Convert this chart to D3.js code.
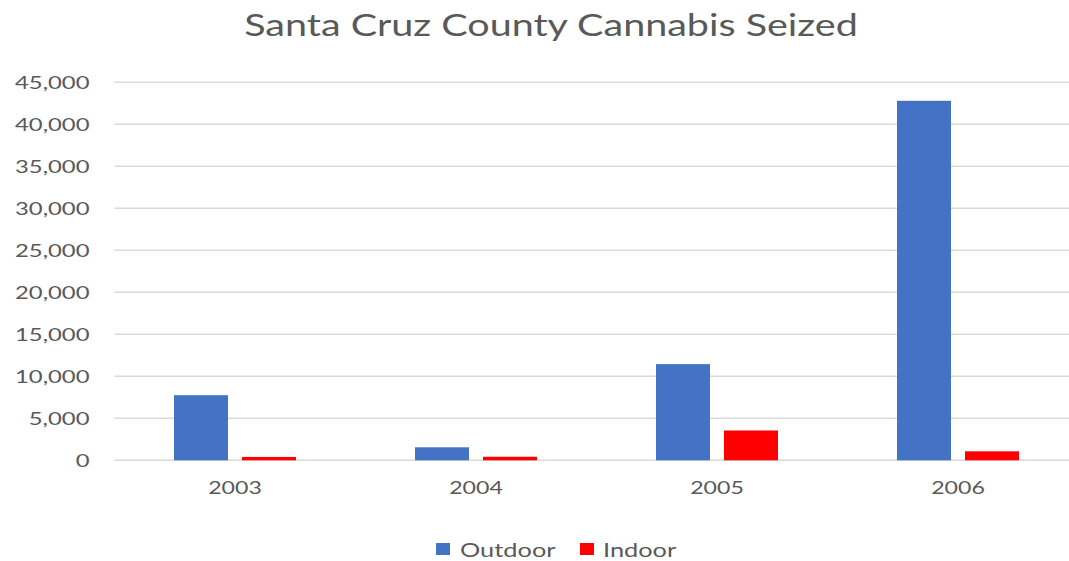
<!DOCTYPE html>
<html>
<head>
<meta charset="utf-8">
<script src="https://cdn.jsdelivr.net/npm/d3@7"></script>
<style>
  html, body { margin: 0; padding: 0; background: #fff; }
  svg { display: block; }
  text { font-family: Lato, "Open Sans", sans-serif; fill: #595959; }
</style>
</head>
<body>
<svg id="chart" width="1069" height="561"></svg>
<script>
// Santa Cruz County cannabis seized, by year
const years = ["2003", "2004", "2005", "2006"];
const seriesNames = ["Outdoor", "Indoor"];
const outdoor = [7750, 1550, 11450, 42800];
const indoor = [400, 420, 3550, 1070];
const yTicks = [0, 5000, 10000, 15000, 20000, 25000, 30000, 35000, 40000, 45000];
const colors = ["#4472C4", "#FF0000"];

const svg = d3.select("#chart");
const plot = { left: 114.5, right: 1078.5, top: 82.3, bottom: 460.3 };

// widen text horizontally by a factor (the chart's lettering is broad)
function widen(sel, factor) {
  sel.each(function () {
    const len = this.getComputedTextLength();
    d3.select(this).attr("textLength", len * factor).attr("lengthAdjust", "spacingAndGlyphs");
  });
}

const x0 = d3.scaleBand().domain(years).range([plot.left, plot.right]).paddingInner(0).paddingOuter(0);
const x1 = d3.scaleBand().domain(seriesNames).range([0, x0.bandwidth()]).paddingInner(0.206).paddingOuter(0.875);
const y = d3.scaleLinear().domain([0, 45000]).range([plot.bottom, plot.top]);

// gridlines
svg.append("g")
  .selectAll("line")
  .data(yTicks)
  .join("line")
  .attr("x1", plot.left)
  .attr("x2", plot.right)
  .attr("y1", d => y(d))
  .attr("y2", d => y(d))
  .attr("stroke", "#D9D9D9")
  .attr("stroke-width", 1.4);

// y axis labels
const yAxis = svg.append("g")
  .attr("transform", `translate(${plot.left},0)`)
  .call(d3.axisLeft(y).tickValues(yTicks).tickFormat(d3.format(",")).tickSize(0).tickPadding(25));
yAxis.select(".domain").remove();
yAxis.selectAll("text")
  .style("font-size", "16.8px")
  .attr("fill", "#595959")
  .attr("font-family", "Lato, 'Open Sans', sans-serif")
  .attr("dy", "0.35em")
  .call(widen, 1.42);

// x axis labels
const xAxis = svg.append("g")
  .attr("transform", `translate(0,${plot.bottom})`)
  .call(d3.axisBottom(x0).tickSize(0).tickPadding(22));
xAxis.select(".domain").remove();
xAxis.selectAll("text")
  .style("font-size", "17px")
  .attr("fill", "#595959")
  .attr("font-family", "Lato, 'Open Sans', sans-serif")
  .call(widen, 1.36);

// bars
const rows = years.map((yr, i) => ({ year: yr, values: [outdoor[i], indoor[i]] }));
const groups = svg.append("g")
  .selectAll("g")
  .data(rows)
  .join("g")
  .attr("transform", d => `translate(${x0(d.year)},0)`);
groups.selectAll("rect")
  .data(d => d.values.map((v, j) => ({ name: seriesNames[j], value: v, color: colors[j] })))
  .join("rect")
  .attr("x", d => x1(d.name))
  .attr("width", x1.bandwidth())
  .attr("y", d => y(d.value))
  .attr("height", d => y(0) - y(d.value))
  .attr("fill", d => d.color);

// title
svg.append("text")
  .attr("x", 551)
  .attr("y", 36)
  .attr("text-anchor", "middle")
  .style("font-size", "30.5px")
  .text("Santa Cruz County Cannabis Seized")
  .call(widen, 1.295);

// legend
const legendItems = [
  { name: seriesNames[0], color: colors[0], sx: 436, tx: 460 },
  { name: seriesNames[1], color: colors[1], sx: 580, tx: 603 }
];
const lg = svg.append("g");
lg.selectAll("rect")
  .data(legendItems)
  .join("rect")
  .attr("x", d => d.sx)
  .attr("y", 543)
  .attr("width", 14)
  .attr("height", 12)
  .attr("fill", d => d.color);
lg.selectAll("text")
  .data(legendItems)
  .join("text")
  .attr("x", d => d.tx)
  .attr("y", 557)
  .style("font-size", "19.5px")
  .text(d => d.name)
  .call(widen, 1.3);
</script>
</body>
</html>
